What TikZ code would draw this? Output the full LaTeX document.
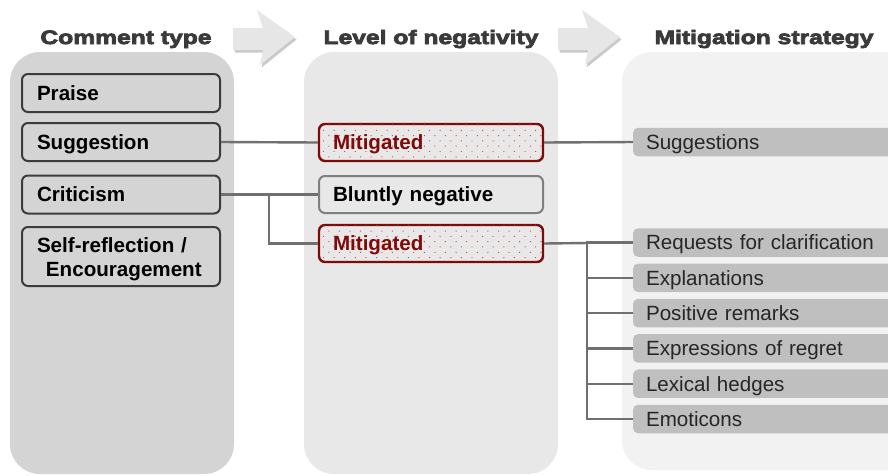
\documentclass[tikz,border=0pt]{standalone}
\usepackage{fontspec}
\setmainfont{Liberation Sans}
\newfontfamily\headfont[FakeBold=4,FakeStretch=1.27]{Liberation Sans}
\usetikzlibrary{patterns.meta}
\definecolor{bgA}{HTML}{D4D4D4}
\definecolor{bgB}{HTML}{E8E8E8}
\definecolor{bgC}{HTML}{F2F2F2}
\definecolor{cdark}{HTML}{3C3C3C}
\definecolor{cgray}{HTML}{7F7F7F}
\definecolor{mred}{HTML}{7E0A0A}
\definecolor{mdot}{HTML}{D84848}
\definecolor{sfill}{HTML}{BFBFBF}
\definecolor{stext}{HTML}{262626}
\definecolor{conncol}{HTML}{707070}
\definecolor{headcol}{HTML}{3A3A3A}
\definecolor{arrfill}{HTML}{E6E6E6}
\definecolor{arrshadow}{HTML}{C9C9C9}
\begin{document}
\begin{tikzpicture}[x=1pt,y=-1pt,
  head/.style={text=headcol, font=\headfont\bfseries\fontsize{19.4}{22}\selectfont, inner sep=0pt, anchor=base},
  onetext/.style={text height=14.8pt, text depth=0pt},
  cbox/.style={draw=cdark, line width=2pt, fill=bgA, rounded corners=6pt,
    minimum width=198pt, minimum height=38pt, text width=168pt, inner xsep=15pt,
    align=left, font=\bfseries\fontsize{20.6}{24}\selectfont, text=black},
  nbox/.style={line width=2pt, rounded corners=6pt,
    minimum width=224pt, minimum height=37pt, text width=196pt, inner xsep=14pt,
    align=left, font=\bfseries\fontsize{20.6}{24}\selectfont, onetext},
  blunt/.style={nbox, draw=cgray, fill=bgB, text=black},
  mit/.style={nbox, draw=mred, line width=2.4pt, fill=bgB, text=mred,
    postaction={pattern={Dots[distance=7.5pt, radius=0.7pt, angle=45]}, pattern color=mdot}},
  sbox/.style={fill=sfill, rounded corners=5pt, minimum width=267pt, minimum height=28.5pt,
    text width=241pt, inner xsep=13pt, align=left, text=stext,
    font=\fontsize{20.6}{24}\selectfont, onetext},
  conn/.style={draw=conncol, line width=2.4pt},
  arrowshape/.style={fill=arrfill},
  arrowshadow/.style={fill=arrshadow}
]
\clip (0,0) rectangle (888,475);
\fill[white] (0,0) rectangle (888,475);

% column backgrounds
\fill[bgA, rounded corners=30pt] (10,52) rectangle (234,474);
\fill[bgB, rounded corners=30pt] (304,52) rectangle (558,474);
\fill[bgC, rounded corners=30pt] (622,52) rectangle (940,470);

% block arrows
\foreach \dx in {0,325}{
  \fill[arrowshadow, shift={(\dx+1.5,2.5)}] (233,28) -- (263,28) -- (257,10) -- (295,37) -- (260,65) -- (263,50) -- (233,50) -- cycle;
  \fill[arrowshape, shift={(\dx,0)}] (233,28) -- (263,28) -- (257,10) -- (295,37) -- (260,65) -- (263,50) -- (233,50) -- cycle;
}

% headings
\node[head] (h1) at (126,44) {Comment type};
\node[head] (h2) at (431,44) {Level of negativity};
\node[head] (h3) at (764,44) {Mitigation strategy};

% comment types
\node[cbox, onetext] (c1) at (121,93) {Praise};
\node[cbox, onetext] (c2) at (121,142) {Suggestion};
\node[cbox, onetext] (c3) at (121,194.5) {Criticism};
\node[cbox, minimum height=59pt] (c4) at (121,256.5) {\rule{0pt}{21pt}Self-reflection /\\\hspace*{9pt}Encouragement};

% level of negativity
\node[mit] (m1) at (431,142.5) {Mitigated};
\node[blunt] (b2) at (431,194.5) {Bluntly negative};
\node[mit] (m2) at (431,243.5) {Mitigated};

% mitigation strategies
\node[sbox] (s1) at (766.5,142) {Suggestions};
\node[sbox] (r1) at (766.5,242.5) {Requests for clarification};
\node[sbox] (r2) at (766.5,277.8) {Explanations};
\node[sbox] (r3) at (766.5,313.1) {Positive remarks};
\node[sbox] (r4) at (766.5,348.4) {Expressions of regret};
\node[sbox] (r5) at (766.5,383.7) {Lexical hedges};
\node[sbox] (r6) at (766.5,419) {Emoticons};

% connectors
\coordinate (jA) at (269,194.5);
\coordinate (jB) at (587,243);
\draw[conn] (c2.east) -- (m1.west);
\draw[conn] (m1.east) -- (s1.west);
\draw[conn] (c3.east) -- (b2.west);
\draw[conn] (jA) |- (m2.west);
\draw[conn] (m2.east) -- (jB);
\foreach \t in {r1,r2,r3,r4,r5,r6}{
  \draw[conn] (jB) |- (\t.west);
}
\end{tikzpicture}
\end{document}
